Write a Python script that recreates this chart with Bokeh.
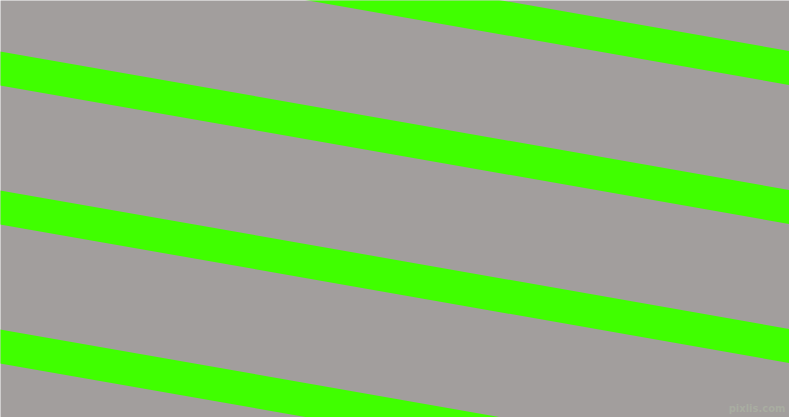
from bokeh.plotting import figure
from bokeh.models import Range1d
from bokeh.embed import file_html
from bokeh.resources import INLINE
from bokeh.core.properties import value

# Data (in reference pixel units)
stripe_top_at_left = [-88, 51, 190, 329, 468]   # y of stripe top edge at x=0
stripe_thickness = [34, 34, 34, 34, 34]
slope = 0.1755
canvas_w, canvas_h = 789, 417
bg_color = "#A29E9D"
stripe_color = "#40FF00"
watermark = ["pixlis.com"]

W, H = 789, 417
p = figure(width=W, height=H, output_backend="svg", toolbar_location=None,
           x_range=Range1d(0, canvas_w), y_range=Range1d(canvas_h, 0),
           min_border=0, background_fill_color=bg_color, border_fill_color=bg_color,
           outline_line_color=None)
p.axis.visible = False
p.grid.visible = False

x0, x1 = -50, canvas_w + 50
xs, ys = [], []
for b, t in zip(stripe_top_at_left, stripe_thickness):
    xs.append([x0, x1, x1, x0])
    ys.append([b + slope * x0, b + slope * x1, b + t + slope * x1, b + t + slope * x0])
p.patches(xs, ys, fill_color=stripe_color, line_color=None)

p.text(x=[785], y=[413], text=watermark, text_align="right", text_baseline="bottom",
       text_font=value("DejaVu Sans"), text_font_style="bold", text_font_size="10px",
       text_color="#B0BCA6", text_alpha=0.5)

open("out.html", "w").write(file_html(p, INLINE))
